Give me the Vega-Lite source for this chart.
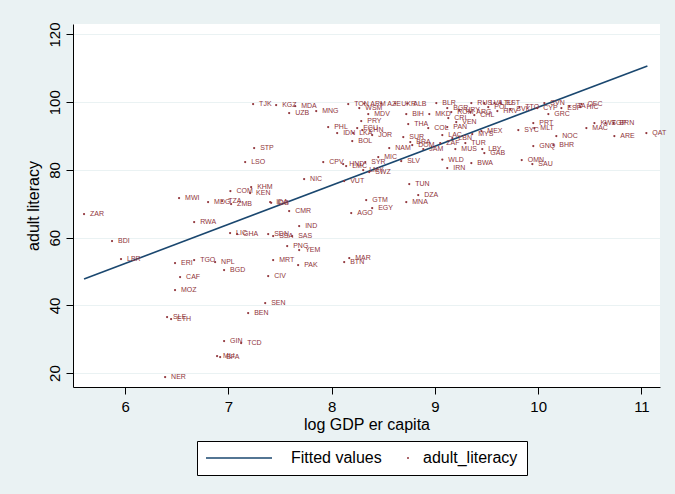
{
  "$schema": "https://vega.github.io/schema/vega-lite/v6.json",
  "width": 587,
  "height": 363,
  "autosize": "none",
  "padding": {"left": 73, "top": 24, "right": 15, "bottom": 107},
  "background": "#EAF2F3",
  "config": {"view": {"fill": "white", "stroke": null}, "font": "Liberation Sans"},
  "datasets": {
    "countries": [
      {"c": "ZAR", "gdp": 5.603, "lit": 66.97},
      {"c": "BDI", "gdp": 5.874, "lit": 59.0},
      {"c": "LBR", "gdp": 5.961, "lit": 53.68},
      {"c": "NER", "gdp": 6.388, "lit": 18.82},
      {"c": "SLE", "gdp": 6.407, "lit": 36.54},
      {"c": "ETH", "gdp": 6.446, "lit": 35.95},
      {"c": "ERI", "gdp": 6.484, "lit": 52.5},
      {"c": "MOZ", "gdp": 6.484, "lit": 44.52},
      {"c": "MWI", "gdp": 6.523, "lit": 71.7},
      {"c": "CAF", "gdp": 6.533, "lit": 48.36},
      {"c": "RWA", "gdp": 6.669, "lit": 64.61},
      {"c": "TGO", "gdp": 6.669, "lit": 53.38},
      {"c": "MDG", "gdp": 6.804, "lit": 70.52},
      {"c": "NPL", "gdp": 6.872, "lit": 52.79},
      {"c": "MLI", "gdp": 6.891, "lit": 25.02},
      {"c": "BFA", "gdp": 6.921, "lit": 24.73},
      {"c": "TZA", "gdp": 6.94, "lit": 70.81},
      {"c": "GIN", "gdp": 6.959, "lit": 29.45},
      {"c": "BGD", "gdp": 6.959, "lit": 50.43},
      {"c": "LIC", "gdp": 7.017, "lit": 61.36},
      {"c": "COM", "gdp": 7.02, "lit": 73.77},
      {"c": "ZMB", "gdp": 7.027, "lit": 69.92},
      {"c": "GHA", "gdp": 7.085, "lit": 61.06},
      {"c": "TCD", "gdp": 7.124, "lit": 28.86},
      {"c": "LSO", "gdp": 7.163, "lit": 82.33},
      {"c": "BEN", "gdp": 7.192, "lit": 37.73},
      {"c": "KEN", "gdp": 7.211, "lit": 73.18},
      {"c": "KHM", "gdp": 7.221, "lit": 74.95},
      {"c": "TJK", "gdp": 7.24, "lit": 99.47},
      {"c": "STP", "gdp": 7.25, "lit": 86.47},
      {"c": "SEN", "gdp": 7.357, "lit": 40.68},
      {"c": "CIV", "gdp": 7.386, "lit": 48.66},
      {"c": "SDN", "gdp": 7.386, "lit": 61.06},
      {"c": "IDA", "gdp": 7.405, "lit": 70.52},
      {"c": "IDB", "gdp": 7.415, "lit": 70.3},
      {"c": "SSA", "gdp": 7.434, "lit": 60.47},
      {"c": "MRT", "gdp": 7.434, "lit": 53.38},
      {"c": "KGZ", "gdp": 7.463, "lit": 99.17},
      {"c": "PNG", "gdp": 7.57, "lit": 57.52},
      {"c": "CMR", "gdp": 7.589, "lit": 67.86},
      {"c": "UZB", "gdp": 7.589, "lit": 96.81},
      {"c": "SAS", "gdp": 7.618, "lit": 60.47},
      {"c": "MDA", "gdp": 7.647, "lit": 98.88},
      {"c": "PAK", "gdp": 7.676, "lit": 51.91},
      {"c": "IND", "gdp": 7.686, "lit": 63.43},
      {"c": "YEM", "gdp": 7.686, "lit": 56.34},
      {"c": "NIC", "gdp": 7.734, "lit": 77.31},
      {"c": "MNG", "gdp": 7.851, "lit": 97.4},
      {"c": "CPV", "gdp": 7.919, "lit": 82.33},
      {"c": "PHL", "gdp": 7.967, "lit": 92.67},
      {"c": "IDN", "gdp": 8.054, "lit": 90.9},
      {"c": "HND", "gdp": 8.112, "lit": 81.74},
      {"c": "LMC", "gdp": 8.141, "lit": 81.15},
      {"c": "BTN", "gdp": 8.122, "lit": 52.79},
      {"c": "VUT", "gdp": 8.122, "lit": 76.72},
      {"c": "TON", "gdp": 8.161, "lit": 99.47},
      {"c": "MAR", "gdp": 8.171, "lit": 53.97},
      {"c": "AGO", "gdp": 8.19, "lit": 67.27},
      {"c": "BOL", "gdp": 8.2, "lit": 88.53},
      {"c": "LKA", "gdp": 8.209, "lit": 90.9},
      {"c": "ECU", "gdp": 8.248, "lit": 92.38},
      {"c": "CHN", "gdp": 8.297, "lit": 91.79},
      {"c": "PRY", "gdp": 8.287, "lit": 94.44},
      {"c": "ARM", "gdp": 8.316, "lit": 99.6},
      {"c": "WSM", "gdp": 8.268, "lit": 98.29},
      {"c": "SYR", "gdp": 8.326, "lit": 82.33},
      {"c": "GTM", "gdp": 8.335, "lit": 71.11},
      {"c": "LMY", "gdp": 8.306, "lit": 79.97},
      {"c": "SWZ", "gdp": 8.364, "lit": 79.38},
      {"c": "MDV", "gdp": 8.355, "lit": 96.51},
      {"c": "JOR", "gdp": 8.393, "lit": 90.31},
      {"c": "EGY", "gdp": 8.393, "lit": 68.74},
      {"c": "MIC", "gdp": 8.452, "lit": 83.81},
      {"c": "AZE", "gdp": 8.481, "lit": 99.6},
      {"c": "NAM", "gdp": 8.558, "lit": 86.47},
      {"c": "UKR", "gdp": 8.616, "lit": 99.6},
      {"c": "SLV", "gdp": 8.674, "lit": 82.63},
      {"c": "SUR", "gdp": 8.694, "lit": 89.72},
      {"c": "BIH", "gdp": 8.723, "lit": 96.51},
      {"c": "MNA", "gdp": 8.723, "lit": 70.52},
      {"c": "ALB", "gdp": 8.733, "lit": 99.6},
      {"c": "THA", "gdp": 8.742, "lit": 93.56},
      {"c": "TUN", "gdp": 8.752, "lit": 75.83},
      {"c": "BRA", "gdp": 8.762, "lit": 88.24},
      {"c": "DOM", "gdp": 8.781, "lit": 87.36},
      {"c": "DZA", "gdp": 8.839, "lit": 72.58},
      {"c": "JAM", "gdp": 8.888, "lit": 86.17},
      {"c": "COL", "gdp": 8.936, "lit": 92.38},
      {"c": "MKD", "gdp": 8.946, "lit": 96.51},
      {"c": "BLR", "gdp": 9.014, "lit": 99.76},
      {"c": "ZAF", "gdp": 9.052, "lit": 87.95},
      {"c": "WLD", "gdp": 9.072, "lit": 83.07},
      {"c": "LAC", "gdp": 9.072, "lit": 90.31},
      {"c": "BGR", "gdp": 9.12, "lit": 98.29},
      {"c": "IRN", "gdp": 9.12, "lit": 80.56},
      {"c": "PAN", "gdp": 9.12, "lit": 92.67},
      {"c": "CRI", "gdp": 9.13, "lit": 95.33},
      {"c": "ROM", "gdp": 9.159, "lit": 97.1},
      {"c": "LBN", "gdp": 9.169, "lit": 89.42},
      {"c": "MUS", "gdp": 9.198, "lit": 86.17},
      {"c": "VEN", "gdp": 9.207, "lit": 94.15},
      {"c": "URY", "gdp": 9.236, "lit": 97.7},
      {"c": "TUR", "gdp": 9.295, "lit": 87.95},
      {"c": "ARG", "gdp": 9.343, "lit": 97.1},
      {"c": "RUS", "gdp": 9.353, "lit": 99.76},
      {"c": "BWA", "gdp": 9.353, "lit": 82.03},
      {"c": "MYS", "gdp": 9.362, "lit": 90.61},
      {"c": "CHL", "gdp": 9.382, "lit": 96.22},
      {"c": "MEX", "gdp": 9.45, "lit": 91.49},
      {"c": "LBY", "gdp": 9.459, "lit": 86.17},
      {"c": "GAB", "gdp": 9.479, "lit": 84.99},
      {"c": "LVA", "gdp": 9.479, "lit": 99.76},
      {"c": "POL", "gdp": 9.517, "lit": 98.58},
      {"c": "LTU", "gdp": 9.576, "lit": 99.76},
      {"c": "HRV", "gdp": 9.605, "lit": 97.4},
      {"c": "EST", "gdp": 9.634, "lit": 99.76},
      {"c": "SVK", "gdp": 9.731, "lit": 97.99},
      {"c": "SYC", "gdp": 9.808, "lit": 91.79},
      {"c": "TTO", "gdp": 9.818, "lit": 98.58},
      {"c": "OMN", "gdp": 9.841, "lit": 82.92},
      {"c": "SAU", "gdp": 9.944, "lit": 81.74},
      {"c": "PRT", "gdp": 9.953, "lit": 93.85},
      {"c": "MLT", "gdp": 9.963, "lit": 92.38},
      {"c": "GNQ", "gdp": 9.953, "lit": 87.06},
      {"c": "CYP", "gdp": 9.992, "lit": 98.29},
      {"c": "SVN", "gdp": 10.06, "lit": 99.76},
      {"c": "GRC", "gdp": 10.099, "lit": 96.51},
      {"c": "BHR", "gdp": 10.147, "lit": 87.36},
      {"c": "NOC", "gdp": 10.176, "lit": 90.01},
      {"c": "ESP", "gdp": 10.225, "lit": 98.29},
      {"c": "ITA", "gdp": 10.302, "lit": 98.88},
      {"c": "HIC", "gdp": 10.409, "lit": 98.58},
      {"c": "OEC", "gdp": 10.419, "lit": 99.47},
      {"c": "MAC", "gdp": 10.467, "lit": 92.38},
      {"c": "KWT", "gdp": 10.545, "lit": 93.85},
      {"c": "SGP", "gdp": 10.651, "lit": 93.85},
      {"c": "BRN", "gdp": 10.729, "lit": 93.85},
      {"c": "ARE", "gdp": 10.738, "lit": 90.01},
      {"c": "QAT", "gdp": 11.048, "lit": 90.9}
    ],
    "fit": [
      {"gdp": 5.603, "lit": 47.8},
      {"gdp": 11.058, "lit": 110.7}
    ]
  },
  "encoding": {
    "x": {
      "field": "gdp", "type": "quantitative",
      "scale": {"domain": [5.496, 11.18], "nice": false, "zero": false},
      "axis": {
        "title": "log GDP er capita", "values": [6, 7, 8, 9, 10, 11], "grid": false,
        "labelAngle": 0, "labelFontSize": 15, "labelFont": "Liberation Sans", "labelColor": "black",
        "labelPadding": 5, "labelFlush": false, "tickSize": 7, "tickColor": "black", "domainColor": "black",
        "titleFontSize": 16, "titleFontWeight": "normal", "titleFont": "Liberation Sans", "titleColor": "black", "titlePadding": 2
      }
    },
    "y": {
      "field": "lit", "type": "quantitative",
      "scale": {"domain": [15.9, 123.1], "nice": false, "zero": false},
      "axis": {
        "title": "adult literacy", "values": [20, 40, 60, 80, 100, 120], "grid": true, "gridColor": "#EAF2F3", "gridWidth": 1,
        "labelAngle": 270, "labelAlign": "center", "labelBaseline": "bottom",
        "labelFontSize": 15, "labelFont": "Liberation Sans", "labelColor": "black",
        "labelPadding": 4, "tickSize": 7, "tickColor": "black", "domainColor": "black",
        "titleFontSize": 16, "titleFontWeight": "normal", "titleFont": "Liberation Sans", "titleColor": "black", "titlePadding": 6
      }
    }
  },
  "layer": [
    {
      "data": {"name": "fit"},
      "mark": {"type": "line", "strokeWidth": 1.6},
      "encoding": {
        "color": {
          "datum": "Fitted values",
          "scale": {"domain": ["Fitted values", "adult_literacy"], "range": ["#1A476F", "#90353B"]},
          "legend": {
            "orient": "none", "legendX": 124, "legendY": 417, "direction": "horizontal", "title": null,
            "fillColor": "white", "strokeColor": "black", "padding": 9,
            "labelFontSize": 16, "labelFont": "Liberation Sans", "labelColor": "black",
            "columnPadding": 23, "symbolSize": 100, "labelOffset": 10,
            "encode": {
              "symbols": {"update": {
                "shape": {"signal": "datum.value === 'Fitted values' ? 'stroke' : 'circle'"},
                "size": {"signal": "datum.value === 'Fitted values' ? 4356 : 4"},
                "x": {"signal": "datum.value === 'Fitted values' ? 33 : 3"},
                "stroke": {"signal": "datum.value === 'Fitted values' ? '#1A476F' : '#90353B'"},
                "fill": {"signal": "datum.value === 'Fitted values' ? 'transparent' : '#90353B'"},
                "strokeWidth": {"signal": "datum.value === 'Fitted values' ? 1.6 : 0"},
                "opacity": {"value": 1}
              }},
              "labels": {"update": {
                "x": {"signal": "datum.value === 'Fitted values' ? 85 : 18"}
              }}
            }
          }
        }
      }
    },
    {
      "data": {"name": "countries"},
      "mark": {"type": "point", "filled": true, "size": 5, "opacity": 1},
      "encoding": {
        "color": {
          "datum": "adult_literacy",
          "legend": {
            "orient": "none", "legendX": 124, "legendY": 417, "direction": "horizontal", "title": null,
            "fillColor": "white", "strokeColor": "black", "padding": 9,
            "labelFontSize": 16, "labelFont": "Liberation Sans", "labelColor": "black",
            "columnPadding": 23, "symbolSize": 100, "labelOffset": 10,
            "encode": {
              "symbols": {"update": {
                "shape": {"signal": "datum.value === 'Fitted values' ? 'stroke' : 'circle'"},
                "size": {"signal": "datum.value === 'Fitted values' ? 4356 : 4"},
                "x": {"signal": "datum.value === 'Fitted values' ? 33 : 3"},
                "stroke": {"signal": "datum.value === 'Fitted values' ? '#1A476F' : '#90353B'"},
                "fill": {"signal": "datum.value === 'Fitted values' ? 'transparent' : '#90353B'"},
                "strokeWidth": {"signal": "datum.value === 'Fitted values' ? 1.6 : 0"},
                "opacity": {"value": 1}
              }},
              "labels": {"update": {
                "x": {"signal": "datum.value === 'Fitted values' ? 85 : 18"}
              }}
            }
          }
        }
      }
    },
    {
      "data": {"name": "countries"},
      "mark": {"type": "text", "align": "left", "baseline": "middle", "dx": 6, "fontSize": 7, "font": "Liberation Sans", "color": "#90353B"},
      "encoding": {"text": {"field": "c"}}
    }
  ]
}
